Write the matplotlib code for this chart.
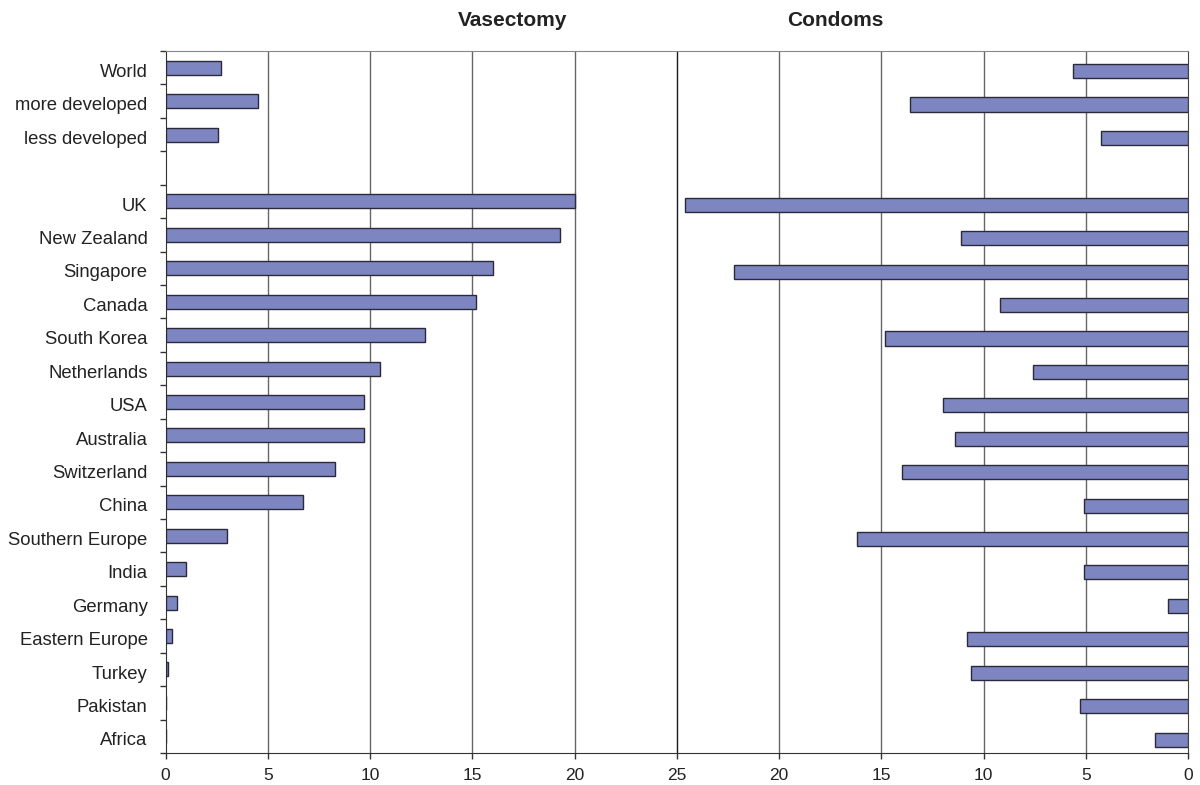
import numpy as np
import matplotlib
matplotlib.use('Agg')
import matplotlib.pyplot as plt

plt.rcParams['font.family'] = ['Liberation Sans', 'DejaVu Sans']

# regional aggregates (top block) and countries (lower block)
regions = ['World', 'more developed', 'less developed']
regions_vas = [2.7, 4.5, 2.55]
regions_con = [5.6, 13.6, 4.25]

countries = ['UK', 'New Zealand', 'Singapore', 'Canada', 'South Korea',
             'Netherlands', 'USA', 'Australia', 'Switzerland', 'China',
             'Southern Europe', 'India', 'Germany', 'Eastern Europe',
             'Turkey', 'Pakistan', 'Africa']
countries_vas = [20.0, 19.3, 16.0, 15.2, 12.7, 10.5, 9.7, 9.7, 8.3, 6.7,
                 3.0, 1.0, 0.55, 0.3, 0.1, 0.0, 0.0]
countries_con = [24.6, 11.1, 22.2, 9.2, 14.8, 7.6, 12.0, 11.4, 14.0, 5.1,
                 16.2, 5.1, 1.0, 10.8, 10.6, 5.3, 1.6]

half = 25  # each panel runs 0..25, condoms mirrored on the right
tick_vals = [0, 5, 10, 15, 20, 25, 20, 15, 10, 5, 0]

labels = regions + countries
vas = np.array(regions_vas + countries_vas)
con = np.array(regions_con + countries_con)
# leave one empty row between the two blocks
ypos = np.concatenate([np.arange(len(regions)),
                       np.arange(len(countries)) + len(regions) + 1])
nrows = len(regions) + 1 + len(countries)

fig = plt.figure(figsize=(12, 7.85), dpi=100)
ax = fig.add_axes([0.138, 0.0408, 0.852, 0.8942])

bar_col = '#7e86c2'
ax.barh(ypos, vas, height=0.42, left=0, color=bar_col,
        edgecolor='#2a2a3a', linewidth=1.0, zorder=3)
# the condoms panel sits a touch lower in the original
ax.barh(ypos + 0.1, con, height=0.42, left=2 * half - con, color=bar_col,
        edgecolor='#2a2a3a', linewidth=1.0, zorder=3)

ax.set_xlim(0, 2 * half)
ax.set_ylim(nrows - 0.5, -0.5)

# x ticks mirrored around the centre line
xt = np.arange(0, 2 * half + 1, 5)
ax.set_xticks(xt)
ax.set_xticklabels([str(v) for v in tick_vals], fontsize=12.5, color='#222222')
ax.tick_params(axis='x', length=4.5, width=1, color='#333333', pad=6)

for x in xt[1:-1]:
    col = '#1a1a1a' if x == half else '#666666'
    ax.axvline(x, color=col, linewidth=1.0, zorder=1)

# y ticks at row borders, labels in the middle of each row
ax.set_yticks(np.arange(-0.5, nrows, 1))
ax.set_yticklabels([])
ax.tick_params(axis='y', which='major', length=4.5, width=1, color='#333333')
ax.set_yticks(ypos + 0.08, minor=True)
ax.set_yticklabels(labels, minor=True, fontsize=13.3, color='#222222')
ax.tick_params(axis='y', which='minor', length=0, pad=13)

ax.spines['left'].set_color('#333333')
ax.spines['bottom'].set_color('#333333')
ax.spines['top'].set_color('#888888')
ax.spines['right'].set_color('#444444')

fig.text(0.4275, 0.9745, 'Vasectomy', ha='center', va='center',
         fontsize=15, fontweight='bold', color='#222222')
fig.text(0.696, 0.9745, 'Condoms', ha='center', va='center',
         fontsize=15, fontweight='bold', color='#222222')

fig.savefig('out.png', dpi=100)
